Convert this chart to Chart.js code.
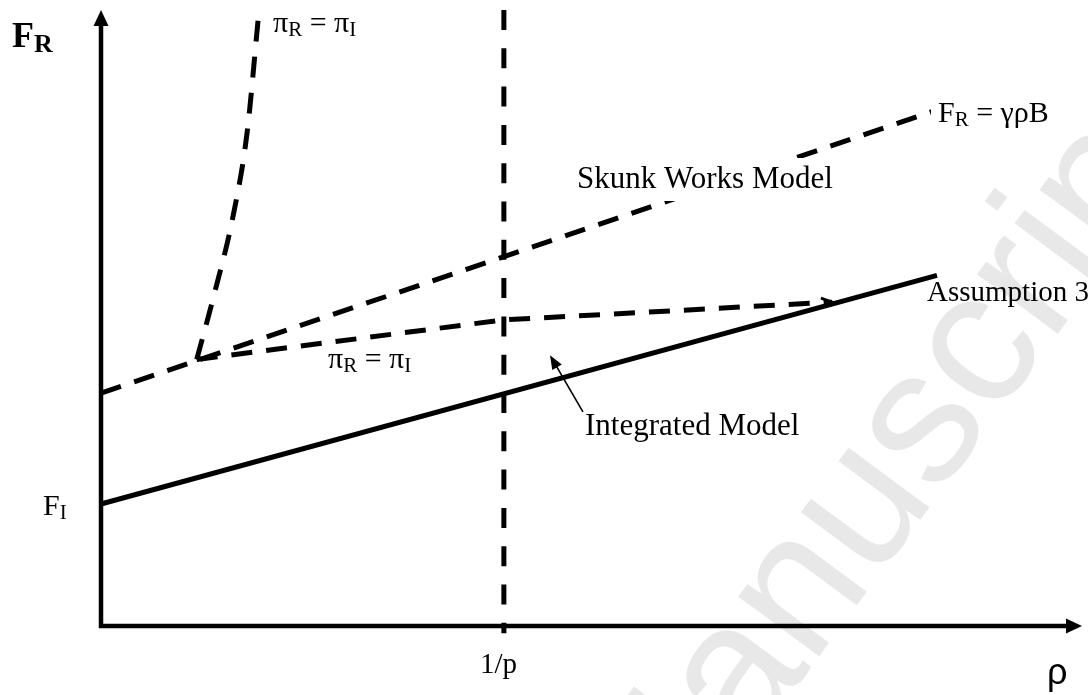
<!DOCTYPE html>
<html>
<head>
<meta charset="utf-8">
<script src="https://cdn.jsdelivr.net/npm/chart.js@4.4.1/dist/chart.umd.min.js"></script>
<style>
  body { margin: 0; background: #fff; }
  canvas { display: block; }
</style>
</head>
<body>
<canvas id="chart" width="1088" height="695"></canvas>
<script>
// axis ranges (rho on x, F_R on y), in arbitrary model units
const rhoMax = 9.75;
const fMax = 10.1;
const oneOverP = 4; // the 1/p threshold on the rho axis

// Integrated Model (solid)
const integratedRho = [0, 8.3];
const integratedF = [2.0, 5.75];

// Skunk Works Model, F_R = gamma*rho*B (dashed)
const skunkRho = [0, 8.3];
const skunkF = [3.82, 8.46];

// steep pi_R = pi_I branch (dashed)
const steepRho = [0.95, 1.11, 1.31, 1.45, 1.56];
const steepF = [4.37, 5.35, 6.71, 8.08, 9.94];

// flat pi_R = pi_I branch, kinked at 1/p (dashed)
const flatRho = [0.95, oneOverP, 7.26];
const flatF = [4.37, 5.02, 5.31];

// vertical 1/p guide, drawn top to bottom
const guideRho = [oneOverP, oneOverP];
const guideF = [fMax, -0.12];

// pointer from the "Integrated Model" label to the solid line
const pointerRho = [4.785, 4.458];
const pointerF = [3.51, 4.44];

const pts = (xs, ys) => xs.map((x, i) => ({ x: x, y: ys[i] }));

const serif = "'Liberation Serif', 'Times New Roman', serif";

// text placed around the drawing: left, baseline, optional white box, parts
const labels = [
    { x: 12, y: 47, parts: [{ t: "F", size: 36, bold: true }, { t: "R", size: 26, bold: true, dy: 5 }] },
    { x: 273, y: 32, parts: [{ t: "π", size: 30 }, { t: "R", size: 21, dy: 4 }, { t: " = ", size: 30 }, { t: "π", size: 30 }, { t: "I", size: 21, dy: 4 }] },
    { x: 328, y: 368, parts: [{ t: "π", size: 30 }, { t: "R", size: 21, dy: 4 }, { t: " = ", size: 30 }, { t: "π", size: 30 }, { t: "I", size: 21, dy: 4 }] },
    { x: 938, y: 122, box: [931, 96, 130, 34], parts: [{ t: "F", size: 30 }, { t: "R", size: 21, dy: 4 }, { t: " = γρB", size: 30 }] },
    { x: 577, y: 188, box: [570, 158, 270, 43], parts: [{ t: "Skunk Works Model", size: 31 }] },
    { x: 585, y: 435, parts: [{ t: "Integrated Model", size: 31 }] },
    { x: 927, y: 301, parts: [{ t: "Assumption 3", size: 29 }] },
    { x: 43, y: 515, parts: [{ t: "F", size: 30 }, { t: "I", size: 21, dy: 4 }] },
    { x: 480, y: 673, parts: [{ t: "1/p", size: 29 }] }
];

function drawRich(ctx, x, y, parts) {
    let cx = x;
    parts.forEach(p => {
        ctx.font = (p.bold ? "bold " : "") + p.size + "px " + serif;
        ctx.fillText(p.t, cx, y + (p.dy || 0));
        cx += ctx.measureText(p.t).width;
    });
}

function filledArrow(ctx, tx, ty, angle, len, half) {
    ctx.save();
    ctx.translate(tx, ty);
    ctx.rotate(angle);
    ctx.beginPath();
    ctx.moveTo(0, 0);
    ctx.lineTo(-len, -half);
    ctx.lineTo(-len, half);
    ctx.closePath();
    ctx.fill();
    ctx.restore();
}

const sketchPlugin = {
    id: "sketch",
    beforeDraw(chart) {
        const ctx = chart.ctx;
        ctx.save();
        ctx.fillStyle = "#fff";
        ctx.fillRect(0, 0, chart.width, chart.height);
        // faint watermark
        ctx.translate(1207, 132);
        ctx.rotate(-53.5 * Math.PI / 180);
        ctx.fillStyle = "#e8e8e8";
        ctx.font = "190px 'Liberation Sans', Arial, sans-serif";
        ctx.textAlign = "right";
        ctx.fillText("Accepted Manuscript", 0, 0);
        ctx.restore();
    },
    afterDatasetsDraw(chart) {
        const ctx = chart.ctx;
        const xs = chart.scales.x, ys = chart.scales.y;
        const x0 = xs.getPixelForValue(0), y0 = ys.getPixelForValue(0);
        const xEnd = xs.getPixelForValue(rhoMax), yEnd = ys.getPixelForValue(fMax);
        ctx.save();
        ctx.strokeStyle = "#000";
        ctx.fillStyle = "#000";
        ctx.lineCap = "butt";
        ctx.setLineDash([]);

        // axes with arrowheads
        ctx.lineWidth = 4.5;
        ctx.beginPath();
        ctx.moveTo(x0, y0 + 2);
        ctx.lineTo(x0, yEnd + 14);
        ctx.moveTo(x0 - 2, y0);
        ctx.lineTo(xEnd - 14, y0);
        ctx.stroke();
        filledArrow(ctx, x0, yEnd, -Math.PI / 2, 16, 7.5);
        filledArrow(ctx, xEnd - 1, y0, 0, 16, 7.5);

        // open arrowhead at the end of the flat pi_R = pi_I branch
        const n = flatRho.length;
        const ax = xs.getPixelForValue(flatRho[n - 1]), ay = ys.getPixelForValue(flatF[n - 1]);
        const bx = xs.getPixelForValue(flatRho[n - 2]), by = ys.getPixelForValue(flatF[n - 2]);
        const a = Math.atan2(ay - by, ax - bx);
        ctx.lineWidth = 3;
        ctx.beginPath();
        ctx.moveTo(ax - 12 * Math.cos(a - 0.4), ay - 12 * Math.sin(a - 0.4));
        ctx.lineTo(ax, ay);
        ctx.lineTo(ax - 12 * Math.cos(a + 0.4), ay - 12 * Math.sin(a + 0.4));
        ctx.stroke();

        // thin pointer arrow to the integrated line
        const px0 = xs.getPixelForValue(pointerRho[0]), py0 = ys.getPixelForValue(pointerF[0]);
        const px1 = xs.getPixelForValue(pointerRho[1]), py1 = ys.getPixelForValue(pointerF[1]);
        const pa = Math.atan2(py1 - py0, px1 - px0);
        ctx.lineWidth = 1.6;
        ctx.beginPath();
        ctx.moveTo(px0, py0);
        ctx.lineTo(px1 - 10 * Math.cos(pa), py1 - 10 * Math.sin(pa));
        ctx.stroke();
        filledArrow(ctx, px1, py1, pa, 14, 5.5);

        // text (some labels sit on a white box that hides the line behind)
        ctx.textBaseline = "alphabetic";
        labels.forEach(l => {
            if (l.box) {
                ctx.fillStyle = "#fff";
                ctx.fillRect(l.box[0], l.box[1], l.box[2], l.box[3]);
                ctx.fillStyle = "#000";
            }
            drawRich(ctx, l.x, l.y, l.parts);
        });
        ctx.font = "36px 'Liberation Sans', Arial, sans-serif";
        ctx.fillText("ρ", 1047, 684);
        ctx.restore();
    }
};

const dashed = [21, 14];

new Chart(document.getElementById("chart"), {
    type: "scatter",
    data: {
        datasets: [
            { label: "Integrated Model", data: pts(integratedRho, integratedF), borderWidth: 5 },
            { label: "Skunk Works Model", data: pts(skunkRho, skunkF), borderWidth: 5, borderDash: dashed },
            { label: "πR = πI (steep)", data: pts(steepRho, steepF), borderWidth: 5, borderDash: [21, 15], cubicInterpolationMode: "monotone" },
            { label: "πR = πI (flat)", data: pts(flatRho, flatF), borderWidth: 5, borderDash: dashed },
            { label: "1/p", data: pts(guideRho, guideF), borderWidth: 5, borderDash: [20, 18.3] }
        ].map(d => Object.assign({
            showLine: true,
            borderColor: "#000",
            backgroundColor: "#000",
            pointRadius: 0,
            fill: false,
            clip: false,
            borderCapStyle: "butt"
        }, d))
    },
    options: {
        responsive: false,
        animation: false,
        layout: { padding: { left: 101, right: 5, top: 10, bottom: 69 } },
        plugins: {
            legend: { display: false },
            tooltip: { enabled: false }
        },
        scales: {
            x: { type: "linear", min: 0, max: rhoMax, display: false },
            y: { type: "linear", min: 0, max: fMax, display: false }
        }
    },
    plugins: [sketchPlugin]
});
</script>
</body>
</html>
